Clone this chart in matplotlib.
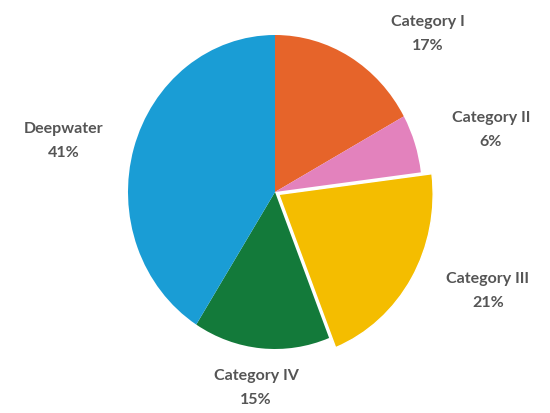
# pie chart of share by category
import matplotlib
matplotlib.use("Agg")
import matplotlib.pyplot as plt

categories = ["Category I", "Category II", "Category III", "Category IV", "Deepwater"]
shares = [17, 6, 21, 15, 41]
colors = ["#e6642a", "#e382bd", "#f4bd00", "#137a3a", "#1a9dd5"]

# label centres in pixels (x from left, y from top)
label_px = [(428, 34), (491, 130), (488, 291), (256, 388), (64, 141)]

W, H = 550, 413
CX, CY = 275, 192      # pie centre in pixels
RX, RY = 147, 157      # pie is a little taller than wide

fig = plt.figure(figsize=(W / 100, H / 100), dpi=100)
ax = fig.add_axes([0, 0, 1, 1])

wedges, _ = ax.pie(shares, colors=colors, startangle=90, counterclock=False,
                   explode=[0, 0, 0.03, 0, 0],
                   wedgeprops=dict(linewidth=0))
# the pulled-out slice is drawn a bit larger, with a thin white rim
wedges[2].set_radius(1.05)
wedges[2].set_edgecolor("white")
wedges[2].set_linewidth(1.0)

ax.set_aspect("auto")
ax.set_xlim(-CX / RX, (W - CX) / RX)
ax.set_ylim(-(H - CY) / RY, CY / RY)
ax.axis("off")

for name, val, (px, py) in zip(categories, shares, label_px):
    fig.text(px / W, 1 - py / H, f"{name}\n{val}%", ha="center", va="center",
             fontsize=11.5, family="Lato", fontweight="bold", color="#555555",
             linespacing=1.9)

fig.savefig("out.png", dpi=100)
